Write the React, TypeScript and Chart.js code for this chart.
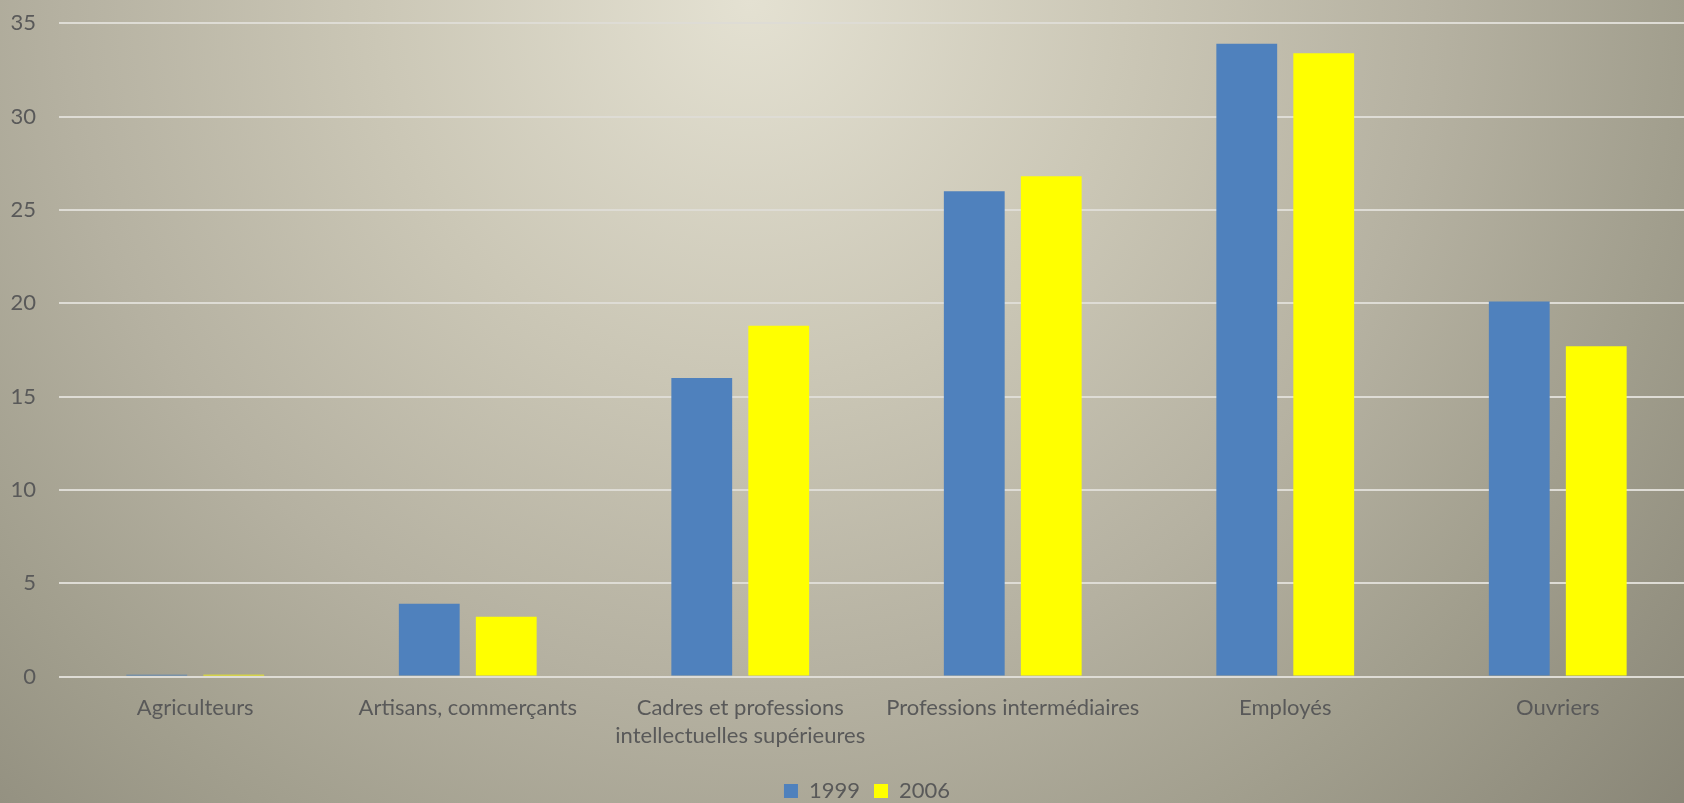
import React, { useEffect, useRef } from "react";
import { Chart, registerables } from "chart.js";

Chart.register(...registerables);

const categories: (string | string[])[] = [
  "Agriculteurs",
  "Artisans, commerçants",
  ["Cadres et professions", "intellectuelles supérieures"],
  "Professions intermédiaires",
  "Employés",
  "Ouvriers",
];
const series1999 = [0.1, 3.9, 16.0, 26.0, 33.9, 20.1];
const series2006 = [0.1, 3.2, 18.8, 26.8, 33.4, 17.7];
const seriesNames = ["1999", "2006"];
const yTicks = { min: 0, max: 35, step: 5 };

const FONT = "Lato, 'Liberation Sans', sans-serif";
const TEXT = "#595959";

const shiftLegend = {
  id: "shiftLegend",
  afterLayout(chart: any) {
    const l = chart.legend;
    if (l) {
      l.left += 20;
      l.right += 20;
    }
  },
};

export default function App() {
  const ref = useRef<HTMLCanvasElement | null>(null);
  useEffect(() => {
    if (!ref.current) return;
    const chart = new Chart(ref.current, {
      type: "bar",
      data: {
        labels: categories,
        datasets: [
          {
            label: seriesNames[0],
            data: series1999,
            backgroundColor: "#4f81bd",
            categoryPercentage: 0.565,
            barPercentage: 0.79,
          },
          {
            label: seriesNames[1],
            data: series2006,
            backgroundColor: "#ffff00",
            categoryPercentage: 0.565,
            barPercentage: 0.79,
          },
        ],
      },
      plugins: [shiftLegend],
      options: {
        responsive: false,
        animation: false,
        layout: { padding: { left: 0, right: 30, top: 23.3, bottom: -9 } },
        plugins: {
          legend: {
            position: "bottom",
            labels: {
              boxWidth: 14,
              boxHeight: 14,
              padding: 14,
              color: TEXT,
              font: { family: FONT, size: 22 },
            },
          },
          tooltip: { enabled: false },
        },
        scales: {
          x: {
            grid: { display: false, drawTicks: false },
            border: { display: false },
            ticks: {
              color: TEXT,
              padding: 18,
              maxRotation: 0,
              autoSkip: false,
              font: { family: FONT, size: 22, lineHeight: 1.25 },
            },
            afterFit: (s: any) => {
              s.height = 89.5;
            },
          },
          y: {
            min: yTicks.min,
            max: yTicks.max,
            grid: { color: "#dedcd5", lineWidth: 2, drawTicks: false },
            border: { display: false },
            ticks: {
              stepSize: yTicks.step,
              color: TEXT,
              padding: 23,
              font: { family: FONT, size: 22 },
            },
            afterFit: (s: any) => {
              s.width = 59;
              s.paddingTop = 0;
              s.paddingBottom = 0;
            },
          },
        },
      },
    });
    return () => chart.destroy();
  }, []);
  return (
    <div
      style={{
        position: "fixed",
        left: 0,
        top: 0,
        width: 1684,
        height: 803,
        overflow: "hidden",
        background:
          "radial-gradient(circle 1250px at 750px 0px, #e4e1d2 0%, #cbc7b6 30%, #b5b1a1 55%, #a19e8d 75%, #888576 100%)",
      }}
    >
      <canvas
        ref={ref}
        width={1724}
        height={803}
        style={{ display: "block", width: 1724, height: 803 }}
      />
    </div>
  );
}
